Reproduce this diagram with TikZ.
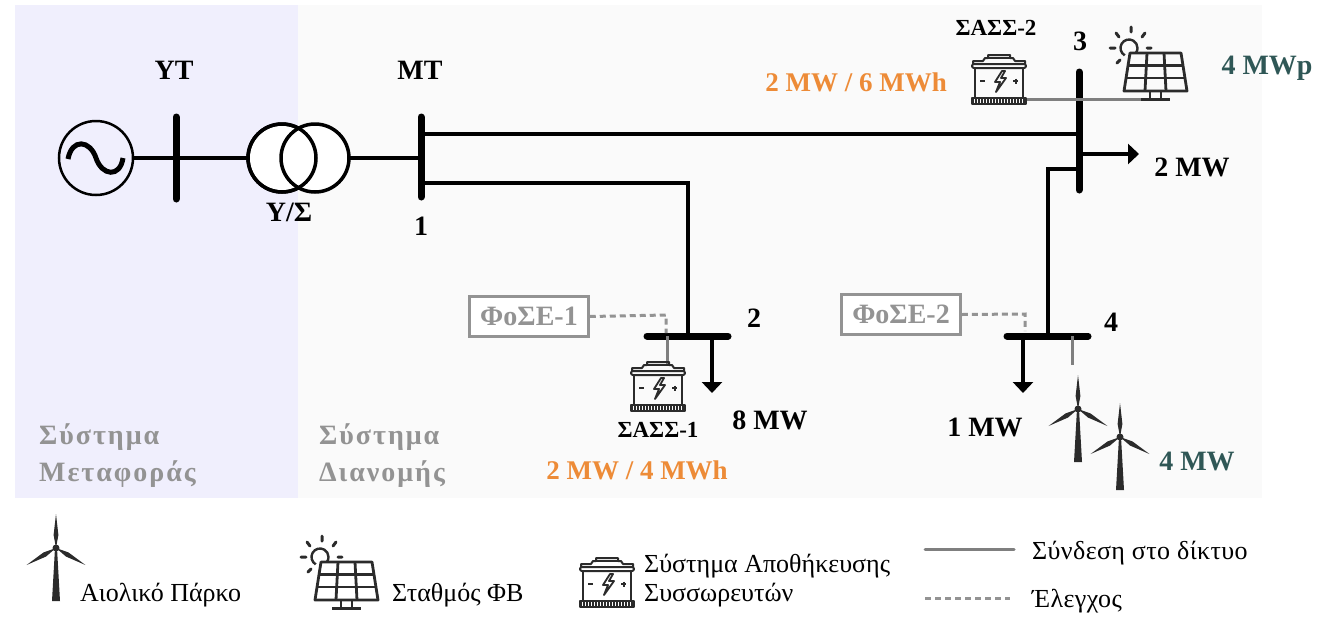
\documentclass[tikz,border=0pt]{standalone}
\usepackage{fontspec}
\setmainfont{Liberation Serif}
\newfontfamily\sysfont[LetterSpace=7]{Liberation Serif}
\newfontfamily\legspaced[LetterSpace=1.5]{Liberation Serif}
\usetikzlibrary{arrows.meta}
\definecolor{lilacbg}{HTML}{F0EFFD}
\definecolor{greybg}{HTML}{FAFAFA}
\definecolor{gridgrey}{HTML}{7F7F7F}
\definecolor{ctrlgrey}{HTML}{939393}
\definecolor{labelgrey}{HTML}{939393}
\definecolor{orangelab}{HTML}{ED8B37}
\definecolor{teallab}{HTML}{2F5756}
\definecolor{icondark}{HTML}{2B2B2B}
\tikzset{
  lab/.style={font=\fontsize{28}{28}\selectfont\bfseries,inner sep=0pt,text=black},
  smalllab/.style={font=\fontsize{23}{23}\selectfont\bfseries,inner sep=0pt,text=black},
  orangetxt/.style={font=\fontsize{27}{27}\selectfont\bfseries,inner sep=0pt,text=orangelab},
  tealtxt/.style={lab,text=teallab},
  systxt/.style={font=\sysfont\fontsize{28}{28}\selectfont\bfseries,inner sep=0pt,text=labelgrey,anchor=west},
  legtxt/.style={font=\fontsize{26}{26}\selectfont,inner sep=0pt,text=black,anchor=west},
  legspacedtxt/.style={font=\legspaced\fontsize{26}{26}\selectfont,inner sep=0pt,text=black,anchor=west},
  busbar/.style={line width=7pt,line cap=round},
  wire/.style={line width=3.5pt,line join=miter},
  gridwire/.style={line width=3pt,draw=gridgrey},
  ctrlwire/.style={line width=3pt,draw=ctrlgrey,dash pattern=on 6pt off 4pt},
  loadarrow/.style={line width=3.5pt,-{Triangle[width=20pt,length=11pt]}},
  fosebox/.style={draw=ctrlgrey,line width=2.5pt,fill=white,minimum width=119pt,minimum height=40pt,inner sep=0pt,text=ctrlgrey,font=\fontsize{28}{28}\selectfont\bfseries},
  battery/.pic={
    \begin{scope}[yscale=-1,draw=icondark,line width=2pt,line join=round]
      \draw (2,10) -- (2,7) -- (12,7) -- (14,4) -- (17,4) -- (17,1) -- (39,1) -- (39,4) -- (42,4) -- (44,7) -- (54,7) -- (54,10);
      \draw (17,4) -- (39,4);
      \draw[rounded corners=2pt] (1,10) rectangle (55,14);
      \draw (4,14) -- (4,43);
      \draw (52,14) -- (52,43);
      \draw[line width=4pt,dash pattern=on 2pt off 1pt] (1,47) -- (55,47);
      \draw (1,44) rectangle (55,50);
      \draw (9,27) -- (14,27);
      \draw (42,27) -- (47,27) (44.5,24.5) -- (44.5,29.5);
      \draw[line width=1.8pt] (31,17) -- (24,28) -- (29,28) -- (25,38) -- (35,24) -- (30,24) -- (34,17) -- cycle;
    \end{scope}
  },
  solarpanel/.pic={
    \begin{scope}[yscale=-1,draw=icondark,line width=2.8pt,line join=round]
      \draw[line width=2.4pt] (14.75,28.36) arc[start angle=120,end angle=395,radius=8.5pt];
      \draw[line cap=round,line width=3pt] (21,0) -- (21,5) (6,6) -- (9,10) (35,6) -- (32,10) (0,21) -- (5,21) (7,36) -- (10,33) (37,21) -- (41,21);
      \draw (20,26) -- (71,26) -- (77,64) -- (14,64) -- cycle;
      \draw (18,38.5) -- (73,38.5) (16,51) -- (75,51);
      \draw (37,26) -- (35,64) (54,26) -- (56,64);
      \draw (40,64) -- (40,72) (51,64) -- (51,72);
      \draw[line width=3pt] (31,72) -- (60,72);
    \end{scope}
  },
  turbine/.pic={
    \begin{scope}[yscale=-1]
    \fill[icondark] (-1,0) -- (1,0) -- (4,53) -- (-4,53) -- cycle;
    \foreach \a in {0,120,240}{
      \fill[icondark,rotate=\a] (0,0) -- (-2.4,-13) -- (0,-34) -- (2.4,-13) -- cycle;
    }
    \fill[icondark] (0,0) circle (3.5pt);
    \end{scope}
  }
}
\begin{document}
\begin{tikzpicture}[x=1pt,y=1pt,yscale=-1]
\useasboundingbox (0,0) rectangle (1332,616);
% backgrounds
\fill[lilacbg] (15,5) rectangle (298,498);
\fill[greybg] (298,5) rectangle (1262,498);
% named points
\coordinate (gen) at (96,158);
\coordinate (t1) at (282,158);
\coordinate (t2) at (315,158);
\coordinate (yttop) at (176,117);
\coordinate (ytbot) at (176,199);
\coordinate (b1top) at (421,117);
\coordinate (b1bot) at (421,197);
\coordinate (b3top) at (1079,72);
\coordinate (b3bot) at (1079,190);
\coordinate (b2l) at (647,336);
\coordinate (b2r) at (728,336);
\coordinate (b4l) at (1007,336);
\coordinate (b4r) at (1088,336);
\coordinate (b1a) at (421,134);
\coordinate (b3a) at (1079,134);
\coordinate (b1b) at (421,183);
\coordinate (c2) at (688,183);
\coordinate (b2f) at (688,336);
\coordinate (b3c) at (1079,169);
\coordinate (c4) at (1048,169);
\coordinate (b4f) at (1048,336);
\coordinate (b3d) at (1079,154);
\coordinate (load3) at (1139,154);
\coordinate (b2d) at (712,336);
\coordinate (load2) at (712,393);
\coordinate (b4d) at (1023,336);
\coordinate (load4) at (1023,393);
\coordinate (bat2e) at (1026,99);
\coordinate (pv) at (1142,99);
\coordinate (b2g) at (667,336);
\coordinate (bat1t) at (667,364);
\coordinate (b4g) at (1072,336);
\coordinate (wt) at (1072,365);
\coordinate (c1) at (666,315);
\coordinate (b2c) at (666,333);
\coordinate (c3) at (1025,314);
\coordinate (b4c) at (1025,331);
% wires
\node[draw,line width=2.5pt,circle,minimum size=74pt,inner sep=0pt] (gensym) at (gen) {};
\draw[line width=5pt] (68,159) .. controls (72,138) and (90,140) .. (96,158) .. controls (102,176) and (120,178) .. (123,158);
\draw[wire] (gensym) -- (t1);
\draw[wire] (t2) -- (b1top |- t2);
\draw[fill=white,line width=3.5pt] (t1) circle (34pt);
\draw[fill=white,line width=3.5pt] (t2) circle (34pt);
\draw[line width=3.5pt] (t1) circle (34pt);
\draw[busbar] (yttop) -- (ytbot);
\draw[busbar] (b1top) -- (b1bot);
\draw[busbar] (b3top) -- (b3bot);
\draw[busbar] (b2l) -- (b2r);
\draw[busbar] (b4l) -- (b4r);
\draw[wire] (b1a) -- (b3a);
\draw[wire] (b1b) -- (c2) -- (b2f);
\draw[wire] (b3c) -- (c4) -- (b4f);
\draw[loadarrow] (b3d) -- (load3);
\draw[loadarrow] (b2d) -- (load2);
\draw[loadarrow] (b4d) -- (load4);
\draw[gridwire] (bat2e) -- (pv);
\draw[gridwire] (b2g) -- (bat1t);
\draw[gridwire] (b4g) -- (wt);
% boxes and control
\node[fosebox] (fose1) at (529,316.5) {ΦοΣΕ-1};
\node[fosebox] (fose2) at (901,314.5) {ΦοΣΕ-2};
\draw[ctrlwire] (fose1.east) -- (c1) -- (b2c);
\draw[ctrlwire] (fose2.east) -- (c3) -- (b4c);
% icons
\pic at (971,54) {battery};
\pic at (630,361) {battery};
\pic at (579,557) {battery};
\pic at (1110,27) {solarpanel};
\pic at (301,536) {solarpanel};
\pic at (1078,409) {turbine};
\pic at (1120,437) {turbine};
\pic at (56,548) {turbine};
% labels
\node[lab] (lyt) at (174,70) {ΥΤ};
\node[lab] (lmt) at (420,70) {ΜΤ};
\node[lab] (lys) at (289,212) {Υ/Σ};
\node[lab] (l1) at (421,226) {1};
\node[lab] (l2) at (754,318) {2};
\node[lab] (l3) at (1080,41) {3};
\node[lab] (l4) at (1111,322) {4};
\node[smalllab] (sass2) at (996,28) {ΣΑΣΣ-2};
\node[smalllab] (sass1) at (658,430) {ΣΑΣΣ-1};
\node[orangetxt] (o2) at (856,82) {2 MW / 6 MWh};
\node[orangetxt] (o1) at (637,470) {2 MW / 4 MWh};
\node[tealtxt] (tp) at (1267,68) {4 MWp};
\node[tealtxt] (tw) at (1197,461) {4 MW};
\node[lab] (m2) at (1192,167) {2 MW};
\node[lab] (m8) at (770,420) {8 MW};
\node[lab] (m1) at (985,427) {1 MW};
\node[systxt] (s1) at (39,437) {Σύστημα};
\node[systxt] (s2) at (39,474) {Μεταφοράς};
\node[systxt] (s3) at (319,437) {Σύστημα};
\node[systxt] (s4) at (319,474) {Διανομής};
% legend
\node[legtxt] (lg1) at (80,595) {Αιολικό Πάρκο};
\node[legtxt] (lg2) at (392,595) {Σταθμός ΦΒ};
\node[legtxt] (lg3) at (644,566) {Σύστημα Αποθήκευσης};
\node[legtxt] (lg4) at (644,595) {Συσσωρευτών};
\node[legspacedtxt] (lg5) at (1032,553) {Σύνδεση στο δίκτυο};
\node[legspacedtxt] (lg6) at (1032,601) {Έλεγχος};
\coordinate (lga) at (925,549);
\coordinate (lgb) at (1014,549);
\coordinate (lgc) at (925,598);
\coordinate (lgd) at (1010,598);
\draw[gridwire,line cap=round] (lga) -- (lgb);
\draw[ctrlwire] (lgc) -- (lgd);
\end{tikzpicture}
\end{document}
